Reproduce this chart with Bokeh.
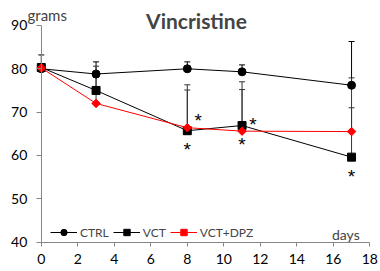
from bokeh.plotting import figure
from bokeh.models import (ColumnDataSource, Whisker, TeeHead, Label, Range1d,
                          Legend, LegendItem, FixedTicker, LinearAxis)
from bokeh.embed import file_html
from bokeh.resources import INLINE
from bokeh.core.properties import value

# ---- data ----
days = [0, 3, 8, 11, 17]
ctrl = [80.0, 78.8, 80.0, 79.3, 76.2]
ctrl_err = [3.2, 2.8, 1.6, 1.6, 10.1]
vct = [80.3, 75.0, 65.7, 66.9, 59.6]
vct_err = [0.5, 5.6, 10.6, 10.1, 11.4]
dpz = [80.2, 72.0, 66.4, 65.6, 65.5]
dpz_err = [0.5, 6.0, 8.7, 9.6, 12.4]
sig_vct_days = [8, 11, 17]     # asterisk below VCT
sig_dpz_days = [8, 11]         # asterisk beside VCT+DPZ
x_ticks = [0, 2, 4, 6, 8, 10, 12, 14, 16, 18]
y_ticks = [40, 50, 60, 70, 80, 90]
title_text = "Vincristine"
y_label = "grams"
x_label = "days"

FONT = "Lato"
X0, X1, Y0, Y1 = 0, 18, 40, 90

# the frame fills the whole canvas; the axes sit at fixed data locations and are
# bounded to the real data extent, so every text lives inside the frame
p = figure(width=380, height=271, output_backend="svg", toolbar_location=None,
           x_range=Range1d(-2.236, 18.586), y_range=Range1d(33.19, 95.77),
           x_axis_location=None, y_axis_location=None,
           min_border_left=0, min_border_right=0, min_border_top=0,
           min_border_bottom=0)
p.outline_line_color = None
p.xgrid.visible = False
p.ygrid.visible = False

yax = LinearAxis(fixed_location=X0)
p.add_layout(yax, "left")
xax = LinearAxis(fixed_location=Y0)
p.add_layout(xax, "below")

for ax in (xax, yax):
    ax.axis_line_color = "#868686"
    ax.major_tick_line_color = "#868686"
    ax.minor_tick_line_color = None
    ax.major_label_text_font = FONT
    ax.major_label_text_font_size = "14px"
    ax.major_label_text_color = "black"
xax.ticker = FixedTicker(ticks=x_ticks)
xax.bounds = (X0, X1)
yax.ticker = FixedTicker(ticks=y_ticks)
yax.bounds = (Y0, Y1)
xax.major_tick_in = 0
xax.major_tick_out = 4
xax.major_label_standoff = 8
yax.major_tick_in = 0
yax.major_tick_out = 5
yax.major_label_standoff = 9

def sources(vals, errs):
    return ColumnDataSource(dict(x=days, y=vals, upper=[v + e for v, e in zip(vals, errs)]))

src_c = sources(ctrl, ctrl_err)
src_v = sources(vct, vct_err)
src_d = sources(dpz, dpz_err)

for src, col in ((src_c, "black"), (src_v, "#333333"), (src_d, "#333333")):
    w = Whisker(source=src, base="x", upper="upper", lower="y", dimension="height",
                line_color=col, line_width=1, lower_head=None,
                upper_head=TeeHead(size=6, line_color=col, line_width=1))
    p.add_layout(w)

lc = p.line("x", "y", source=src_c, line_color="black", line_width=1)
mc = p.scatter("x", "y", source=src_c, marker="circle", size=8, color="black")
lv = p.line("x", "y", source=src_v, line_color="black", line_width=1)
mv = p.scatter("x", "y", source=src_v, marker="square", size=8, color="black")
ld = p.line("x", "y", source=src_d, line_color="#ff0000", line_width=1)
md = p.scatter("x", "y", source=src_d, marker="square", size=6, angle=0.785,
               color="#ff0000")

# significance asterisks
sv = ColumnDataSource(dict(x=sig_vct_days, y=[vct[days.index(d)] for d in sig_vct_days],
                           t=["*"] * len(sig_vct_days)))
sd = ColumnDataSource(dict(x=sig_dpz_days, y=[dpz[days.index(d)] for d in sig_dpz_days],
                           t=["*"] * len(sig_dpz_days)))
AST = "Liberation Sans"
p.text("x", "y", text="t", source=sv, text_font=value(AST), text_font_size="19px",
       text_align="center", text_baseline="middle", y_offset=19, text_color="black")
p.text("x", "y", text="t", source=sd, text_font=value(AST), text_font_size="19px",
       text_align="center", text_baseline="middle", x_offset=11, y_offset=-7,
       text_color="black")

legend = Legend(items=[LegendItem(label="CTRL", renderers=[lc, mc]),
                       LegendItem(label="VCT", renderers=[lv, mv]),
                       LegendItem(label="VCT+DPZ", renderers=[ld, md])],
                orientation="horizontal", location=(50, 31),
                background_fill_alpha=0, border_line_color=None,
                padding=0, margin=0, spacing=4, label_standoff=3,
                glyph_width=27, glyph_height=16, label_height=16,
                label_text_font=FONT, label_text_font_size="12px")
p.add_layout(legend)

p.add_layout(Label(x=196, y=251, x_units="screen", y_units="screen", text=title_text,
                   text_font=FONT, text_font_size="21px", text_font_style="bold",
                   text_align="center", text_baseline="alphabetic"))
p.add_layout(Label(x=27, y=257, x_units="screen", y_units="screen", text=y_label,
                   text_font=FONT, text_font_size="15px",
                   text_align="left", text_baseline="alphabetic"))
p.add_layout(Label(x=X1 - 0.55, y=Y0 + 1.66, text=x_label, text_font=FONT,
                   text_font_size="14px", text_align="right", text_baseline="alphabetic"))

open("out.html", "w").write(file_html(p, INLINE))
